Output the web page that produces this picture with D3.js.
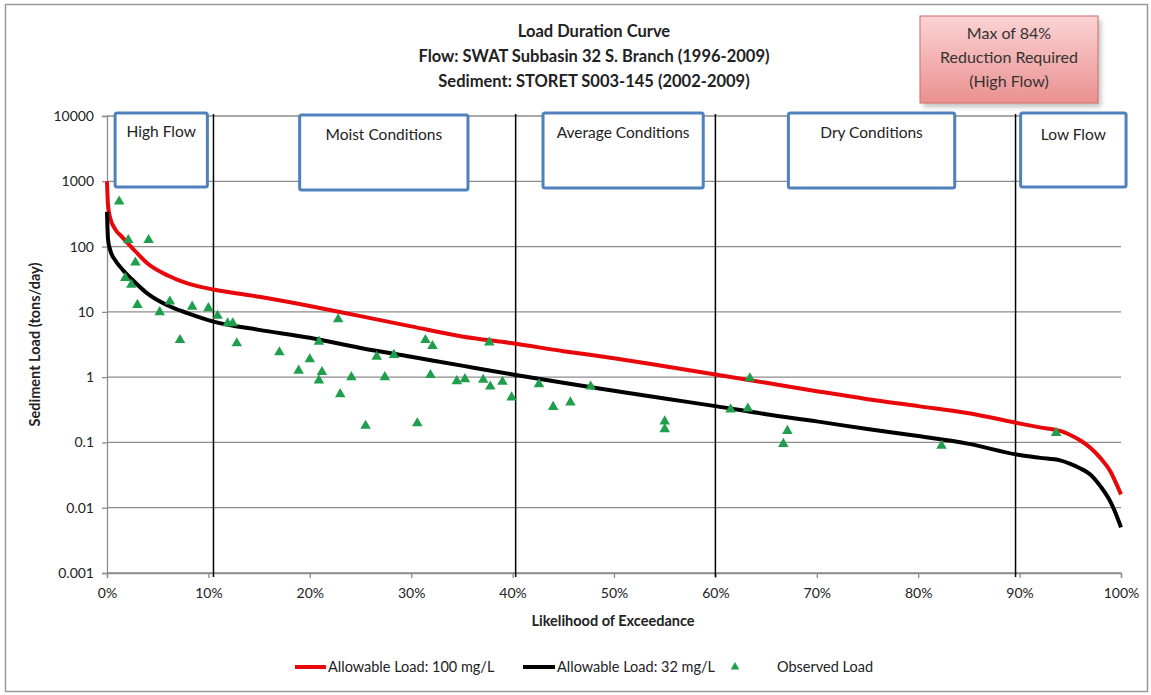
<!DOCTYPE html>
<html>
<head>
<meta charset="utf-8">
<script src="https://cdn.jsdelivr.net/npm/d3@7"></script>
<style>
  body { margin: 0; background: #fff; }
  svg { display: block; font-family: Lato, "Open Sans", sans-serif; }
</style>
</head>
<body>
<div id="chart"></div>
<script>
// chart data
const exceedPct = [0, 0.1, 0.3, 0.8, 1.5, 2.5, 4, 6, 8, 10.5, 15, 20, 25, 30, 35, 40, 45, 50,
                   55, 60, 65, 70, 75, 80, 85, 90, 92, 94, 95, 96, 97, 98, 99, 99.5, 100];
const allowable100 = [1000, 430, 280, 185, 140, 95, 55, 36, 27, 22, 17, 12.3, 8.6, 6.0, 4.2, 3.3, 2.5, 1.95,
                      1.47, 1.1, 0.82, 0.61, 0.46, 0.36, 0.28, 0.195, 0.17, 0.15, 0.13, 0.107, 0.082, 0.057, 0.035, 0.024, 0.016];
const allowable32 = [340, 130, 90, 62, 45, 31, 19, 12.5, 9.5, 7.1, 5.3, 4.0, 2.8, 2.05, 1.5, 1.1, 0.82, 0.62,
                     0.47, 0.36, 0.27, 0.21, 0.16, 0.125, 0.095, 0.064, 0.058, 0.053, 0.047, 0.04, 0.032, 0.021, 0.012, 0.008, 0.005];

const obsPct = [1.2, 2.1, 4.1, 2.8, 1.8, 2.4, 3.0, 5.2, 6.2, 7.2, 8.4, 10.0, 10.9, 11.9, 12.4, 12.8,
                17.0, 18.9, 20.0, 20.9, 21.2, 20.9, 22.8, 23.0, 24.1, 25.5, 26.6, 27.4, 28.3, 30.6,
                31.4, 32.1, 31.9, 34.5, 35.3, 37.1, 37.7, 37.8, 39.0, 39.9, 42.6, 44.0, 45.7, 47.7,
                55.0, 55.0, 61.5, 63.2, 63.4, 67.1, 66.7, 82.3, 93.6];
const obsLoad = [490, 126, 126, 57, 33, 26, 12.8, 9.9, 14.4, 3.7, 12, 11.4, 8.7, 6.7, 6.7, 3.3,
                 2.4, 1.26, 1.88, 3.5, 1.2, 0.89, 7.7, 0.55, 1.0, 0.18, 2.06, 1.0, 2.19, 0.197,
                 3.7, 3.0, 1.08, 0.87, 0.93, 0.91, 3.4, 0.72, 0.85, 0.49, 0.78, 0.35, 0.41, 0.72,
                 0.21, 0.16, 0.32, 0.33, 0.96, 0.15, 0.095, 0.089, 0.14];

const yTickValues = [0.001, 0.01, 0.1, 1, 10, 100, 1000, 10000];
const yTickLabels = ["0.001", "0.01", "0.1", "1", "10", "100", "1000", "10000"];
const xTickValues = [0, 10, 20, 30, 40, 50, 60, 70, 80, 90, 100];

const zoneNames = ["High Flow", "Moist Conditions", "Average Conditions", "Dry Conditions", "Low Flow"];
const zoneDividers = [10.5, 40.3, 60, 89.6];

const titleLines = ["Load Duration Curve",
                    "Flow: SWAT Subbasin 32 S. Branch (1996-2009)",
                    "Sediment: STORET S003-145 (2002-2009)"];
const noteLines = ["Max of 84%", "Reduction Required", "(High Flow)"];

// layout
const WIDTH = 1151, HEIGHT = 695;
const PLOT = {left: 107, right: 1121, top: 116, bottom: 573};
const RED = "#e8080b", GREEN = "#1f9e4c", GRID = "#8c8c8c", BLUE = "#4f81bd";
// zone label boxes, in x percent / y pixel (annotation layout)
const zoneBoxes = [
  {x0: 0.8, x1: 9.9, y0: 113, y1: 187, ty: 137},
  {x0: 19.0, x1: 35.6, y0: 115, y1: 190, ty: 140},
  {x0: 43.0, x1: 58.8, y0: 113, y1: 188, ty: 138},
  {x0: 67.2, x1: 83.6, y0: 113, y1: 188, ty: 138},
  {x0: 90.1, x1: 100.5, y0: 113, y1: 187, ty: 140}
];

const svg = d3.select("#chart").append("svg")
  .attr("width", WIDTH)
  .attr("height", HEIGHT);

const defs = svg.append("defs");
const grad = defs.append("linearGradient").attr("id", "noteFill")
  .attr("x1", 0).attr("y1", 0).attr("x2", 0).attr("y2", 1);
grad.append("stop").attr("offset", "0%").attr("stop-color", "#fbd3d3");
grad.append("stop").attr("offset", "100%").attr("stop-color", "#eb9090");
const blur = defs.append("filter").attr("id", "shadow")
  .attr("x", "-20%").attr("y", "-20%").attr("width", "140%").attr("height", "140%");
blur.append("feGaussianBlur").attr("stdDeviation", 2.5);

// outer frame
svg.append("rect")
  .attr("x", 5.5).attr("y", 4.5)
  .attr("width", 1142).attr("height", 687)
  .attr("fill", "#fff")
  .attr("stroke", "#9a9a9a")
  .attr("stroke-width", 1.5);

const x = d3.scaleLinear().domain([0, 100]).range([PLOT.left, PLOT.right]);
const y = d3.scaleLog().domain([0.001, 10000]).range([PLOT.bottom, PLOT.top]);

// horizontal gridlines
svg.append("g")
  .selectAll("line")
  .data(yTickValues)
  .join("line")
  .attr("x1", PLOT.left).attr("x2", PLOT.right)
  .attr("y1", d => y(d)).attr("y2", d => y(d))
  .attr("stroke", GRID)
  .attr("stroke-width", 1.3);

// y axis
const yAxis = svg.append("g")
  .attr("transform", `translate(${PLOT.left},0)`)
  .call(d3.axisLeft(y).tickValues(yTickValues)
    .tickFormat((d, i) => yTickLabels[i]).tickSize(5).tickPadding(8));
yAxis.select(".domain").attr("stroke", GRID).attr("stroke-width", 1.3);
yAxis.selectAll(".tick line").attr("stroke", GRID).attr("stroke-width", 1.3);
yAxis.selectAll("text").attr("font-size", 14).attr("fill", "#222")
  .attr("font-family", "Lato, sans-serif");

// x axis
const xAxis = svg.append("g")
  .attr("transform", `translate(0,${PLOT.bottom})`)
  .call(d3.axisBottom(x).tickValues(xTickValues)
    .tickFormat(d => d + "%").tickSize(5).tickPadding(10));
xAxis.select(".domain").attr("stroke", GRID).attr("stroke-width", 1.3);
xAxis.selectAll(".tick line").attr("stroke", GRID).attr("stroke-width", 1.3);
xAxis.selectAll("text").attr("font-size", 14).attr("fill", "#222")
  .attr("font-family", "Lato, sans-serif");

// zone dividers
svg.append("g")
  .selectAll("line")
  .data(zoneDividers)
  .join("line")
  .attr("x1", d => x(d)).attr("x2", d => x(d))
  .attr("y1", PLOT.top - 2).attr("y2", PLOT.bottom + 4)
  .attr("stroke", "#000")
  .attr("stroke-width", 1.5);

// zone label boxes
const zones = svg.append("g")
  .selectAll("g")
  .data(zoneNames)
  .join("g");
zones.append("rect")
  .attr("x", (d, i) => x(zoneBoxes[i].x0))
  .attr("y", (d, i) => zoneBoxes[i].y0)
  .attr("width", (d, i) => x(zoneBoxes[i].x1) - x(zoneBoxes[i].x0))
  .attr("height", (d, i) => zoneBoxes[i].y1 - zoneBoxes[i].y0)
  .attr("rx", 2)
  .attr("fill", "#fff")
  .attr("stroke", BLUE)
  .attr("stroke-width", 3);
zones.append("text")
  .attr("x", (d, i) => (x(zoneBoxes[i].x0) + x(zoneBoxes[i].x1)) / 2)
  .attr("y", (d, i) => zoneBoxes[i].ty)
  .attr("text-anchor", "middle")
  .attr("font-size", 15.5)
  .attr("fill", "#222")
  .text(d => d);

// load duration curves
const line = d3.line()
  .x(d => x(d[0]))
  .y(d => y(d[1]))
  .curve(d3.curveMonotoneX);

svg.append("path")
  .datum(exceedPct.map((p, i) => [p, allowable100[i]]))
  .attr("fill", "none")
  .attr("stroke", RED)
  .attr("stroke-width", 4)
  .attr("d", line);

svg.append("path")
  .datum(exceedPct.map((p, i) => [p, allowable32[i]]))
  .attr("fill", "none")
  .attr("stroke", "#000")
  .attr("stroke-width", 4)
  .attr("d", line);

// observed loads
const tri = d3.symbol().type(d3.symbolTriangle).size(48);
svg.append("g")
  .selectAll("path")
  .data(obsPct.map((p, i) => [p, obsLoad[i]]))
  .join("path")
  .attr("transform", d => `translate(${x(d[0])},${y(d[1])})`)
  .attr("d", tri)
  .attr("fill", GREEN);

// axis titles
svg.append("text")
  .attr("transform", `translate(40,${(PLOT.top + PLOT.bottom) / 2}) rotate(-90)`)
  .attr("text-anchor", "middle")
  .attr("font-size", 14.5)
  .attr("font-weight", "bold")
  .attr("fill", "#222")
  .text("Sediment Load (tons/day)");

svg.append("text")
  .attr("x", 613)
  .attr("y", 626)
  .attr("text-anchor", "middle")
  .attr("font-size", 14.5)
  .attr("font-weight", "bold")
  .attr("fill", "#222")
  .text("Likelihood of Exceedance");

// title
svg.append("g")
  .selectAll("text")
  .data(titleLines)
  .join("text")
  .attr("x", 594)
  .attr("y", (d, i) => 37 + i * 25)
  .attr("text-anchor", "middle")
  .attr("font-size", 16.5)
  .attr("font-weight", "bold")
  .attr("fill", "#222")
  .text(d => d);

// reduction note box
svg.append("rect")
  .attr("x", 923).attr("y", 20)
  .attr("width", 178).attr("height", 87)
  .attr("fill", "#999")
  .attr("opacity", 0.6)
  .attr("filter", "url(#shadow)");
svg.append("rect")
  .attr("x", 920).attr("y", 16)
  .attr("width", 178).attr("height", 87)
  .attr("fill", "url(#noteFill)")
  .attr("stroke", "#d46a6a")
  .attr("stroke-width", 1);
svg.append("g")
  .selectAll("text")
  .data(noteLines)
  .join("text")
  .attr("x", 1009)
  .attr("y", (d, i) => 39 + i * 24)
  .attr("text-anchor", "middle")
  .attr("font-size", 16)
  .attr("fill", "#333")
  .text(d => d);

// legend
const legend = svg.append("g").attr("transform", "translate(0,667)");
const legendItems = [
  {label: "Allowable Load: 100 mg/L", type: "line", color: RED, x: 295, tx: 328},
  {label: "Allowable Load: 32 mg/L", type: "line", color: "#000", x: 523, tx: 557},
  {label: "Observed Load", type: "tri", color: GREEN, x: 735, tx: 777}
];
legendItems.forEach(item => {
  if (item.type === "line") {
    legend.append("line")
      .attr("x1", item.x).attr("x2", item.tx - 2)
      .attr("y1", 0).attr("y2", 0)
      .attr("stroke", item.color)
      .attr("stroke-width", 4);
  } else {
    legend.append("path")
      .attr("transform", `translate(${item.x},0)`)
      .attr("d", d3.symbol().type(d3.symbolTriangle).size(32))
      .attr("fill", item.color);
  }
  legend.append("text")
    .attr("x", item.tx)
    .attr("y", 5)
    .attr("font-size", 14.5)
    .attr("fill", "#222")
    .text(item.label);
});
</script>
</body>
</html>
